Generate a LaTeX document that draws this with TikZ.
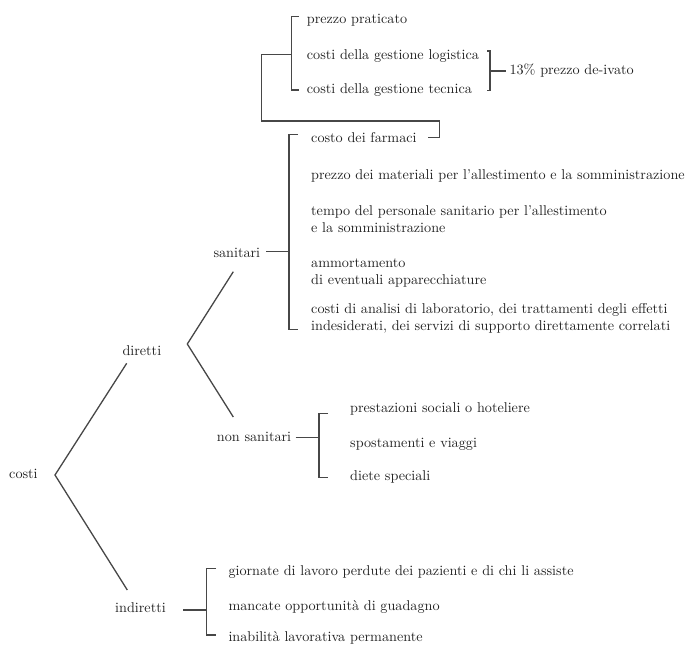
\documentclass[tikz,border=0pt]{standalone}
\usepackage{fontspec}
\setmainfont{lmroman10-regular}[Extension=.otf]
\definecolor{textcol}{HTML}{222222}
\definecolor{linecol}{HTML}{474747}
\newcommand{\twoline}[2]{\begin{tabular}[t]{@{}l@{}}#1\\#2\end{tabular}}
\begin{document}
\begin{tikzpicture}[x=1pt,y=-1pt,
  txt/.style={anchor=base west, inner sep=0pt, text=textcol,
              font=\fontsize{14.2}{17.8}\selectfont},
  rule/.style={draw=linecol, line width=1.3pt, line join=miter}]
\useasboundingbox (0,0) rectangle (696,647);

% ---------- labels of the tree ----------
\node[txt] (costi)    at (9,478.3)     {costi};
\node[txt] (diretti)  at (122.3,355)   {diretti};
\node[txt] (indir)    at (115,612.5)   {indiretti};
\node[txt] (sanit)    at (213.3,257)   {sanitari};
\node[txt] (nonsan)   at (216.7,441.7) {non sanitari};

% ---------- price items ----------
\node[txt] (prezzo)   at (306.7,23.3)  {prezzo praticato};
\node[txt] (logist)   at (306.7,59.3)  {costi della gestione logistica};
\node[txt] (tecn)     at (306.7,93.3)  {costi della gestione tecnica};
\node[txt] (ivato)    at (509.3,75)    {13\% prezzo de-ivato};

% ---------- direct health costs ----------
\node[txt] (farmaci)  at (311,142.7)   {costo dei farmaci};
\node[txt] (materiali) at (311,179.3)  {prezzo dei materiali per l'allestimento e la somministrazione};
\node[txt] (tempo)    at (311,215)     {\twoline{tempo del personale sanitario per l'allestimento}{e la somministrazione}};
\node[txt] (ammort)   at (311,267)     {\twoline{ammortamento}{di eventuali apparecchiature}};
\node[txt] (analisi)  at (311,313)     {\twoline{costi di analisi di laboratorio, dei trattamenti degli effetti}{indesiderati, dei servizi di supporto direttamente correlati}};

% ---------- direct non-health costs ----------
\node[txt] (prest)    at (350,412)     {prestazioni sociali o hoteliere};
\node[txt] (spost)    at (350,447)     {spostamenti e viaggi};
\node[txt] (diete)    at (350,480.5)   {diete speciali};

% ---------- indirect costs ----------
\node[txt] (giorn)    at (228.3,575.5) {giornate di lavoro perdute dei pazienti e di chi li assiste};
\node[txt] (mancate)  at (228.3,610)   {mancate opportunità di guadagno};
\node[txt] (inab)     at (228.3,641)   {inabilità lavorativa permanente};

% ---------- branching points ----------
\coordinate (vcosti) at (55,475);
\coordinate (dirEnd) at (126.7,363.3);
\coordinate (indEnd) at (127.3,590);
\coordinate (vdir)   at (187.3,344);
\coordinate (sanEnd) at (233.3,271.7);
\coordinate (nonEnd) at (233.3,417);

\draw[rule] (dirEnd) -- (vcosti) -- (indEnd);
\draw[rule] (sanEnd) -- (vdir) -- (nonEnd);

% ---------- bracket: price items ----------
\coordinate (pTop) at (299,16.7);
\coordinate (pBot) at (299,90);
\coordinate (pMid) at (291.7,54.3);
\coordinate (pKnee) at (261.7,54.3);
\coordinate (pCorner) at (439.3,121);
\coordinate (pEnd) at (428.3,137.3);
\draw[rule] (pTop) -- (291.7,16.7) -- (291.7,90) -- (pBot);
\draw[rule] (pMid) -- (pKnee) |- (pCorner) |- (pEnd);

% ---------- bracket: 13% ----------
\coordinate (iTop) at (487,51);
\coordinate (iBot) at (487,90.7);
\coordinate (iMid) at (490,71);
\coordinate (iOut) at (506,71);
\draw[rule] (iTop) -- (490,51) -- (490,90.7) -- (iBot);
\draw[rule] (iMid) -- (iOut);

% ---------- bracket: sanitari ----------
\coordinate (sTop) at (298,134.5);
\coordinate (sBot) at (298,329.5);
\coordinate (sMid) at (289,251.7);
\coordinate (sIn)  at (266,251.7);
\draw[rule] (sTop) -- (289,134.5) -- (289,329.5) -- (sBot);
\draw[rule] (sIn) -- (sMid);

% ---------- bracket: non sanitari ----------
\coordinate (nTop) at (328,413.3);
\coordinate (nBot) at (328,477.7);
\coordinate (nMid) at (319,437.7);
\coordinate (nIn)  at (295.7,437.7);
\draw[rule] (nTop) -- (319,413.3) -- (319,477.7) -- (nBot);
\draw[rule] (nIn) -- (nMid);

% ---------- bracket: indiretti ----------
\coordinate (dTop) at (216,568.3);
\coordinate (dBot) at (216,635);
\coordinate (dMid) at (206.7,610);
\coordinate (dIn)  at (183.3,610);
\draw[rule] (dTop) -- (206.7,568.3) -- (206.7,635) -- (dBot);
\draw[rule] (dIn) -- (dMid);
\end{tikzpicture}
\end{document}
